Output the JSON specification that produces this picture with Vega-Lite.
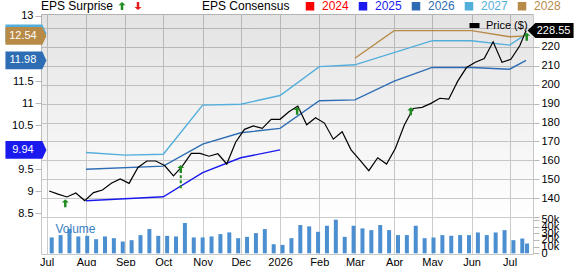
{
  "$schema": "https://vega.github.io/schema/vega-lite/v6.json",
  "width": 492,
  "height": 240,
  "autosize": {"type": "none"},
  "padding": {"left": 41, "top": 14, "right": 46, "bottom": 12},
  "background": "#ffffff",
  "config": {
    "font": "Liberation Sans",
    "view": {"stroke": "#c8c8c8"},
    "axis": {"labelFont": "Liberation Sans", "labelFontSize": 11, "labelColor": "#000000", "tickColor": "#b8b8b8", "gridColor": "#cccccc", "gridWidth": 1, "domain": false, "labelOverlap": false, "labelSeparation": 0},
    "axisY": {"labelOverlap": false},
    "legend": {"padding": 0, "labelFont": "Liberation Sans", "titleFont": "Liberation Sans", "labelFontSize": 12, "titleFontSize": 12, "titleFontWeight": "normal", "titleColor": "#000000", "labelColor": "#000000", "titleLimit": 300}
  },
  "datasets": {
    "panel": [{"panel": "price"}],
    "vol": [
      {"date": "2025-07-05", "vol": 23800}, {"date": "2025-07-12", "vol": 27300}, {"date": "2025-07-19", "vol": 36400},
      {"date": "2025-07-26", "vol": 25300}, {"date": "2025-08-02", "vol": 26200}, {"date": "2025-08-09", "vol": 21200},
      {"date": "2025-08-16", "vol": 25300}, {"date": "2025-08-23", "vol": 22700}, {"date": "2025-08-30", "vol": 17700},
      {"date": "2025-09-06", "vol": 19700}, {"date": "2025-09-13", "vol": 27300}, {"date": "2025-09-20", "vol": 36400},
      {"date": "2025-09-27", "vol": 26200}, {"date": "2025-10-04", "vol": 26200}, {"date": "2025-10-11", "vol": 25300},
      {"date": "2025-10-18", "vol": 45500}, {"date": "2025-10-25", "vol": 23800}, {"date": "2025-11-01", "vol": 23800},
      {"date": "2025-11-08", "vol": 25300}, {"date": "2025-11-15", "vol": 28800}, {"date": "2025-11-22", "vol": 31400},
      {"date": "2025-11-29", "vol": 22700}, {"date": "2025-12-06", "vol": 24700}, {"date": "2025-12-13", "vol": 30300},
      {"date": "2025-12-20", "vol": 36400}, {"date": "2025-12-27", "vol": 13600}, {"date": "2026-01-03", "vol": 12600},
      {"date": "2026-01-10", "vol": 22700}, {"date": "2026-01-17", "vol": 42400}, {"date": "2026-01-24", "vol": 40400},
      {"date": "2026-01-31", "vol": 32300}, {"date": "2026-02-07", "vol": 41400}, {"date": "2026-02-14", "vol": 50500},
      {"date": "2026-02-21", "vol": 24700}, {"date": "2026-02-28", "vol": 41400}, {"date": "2026-03-07", "vol": 37400},
      {"date": "2026-03-14", "vol": 34800}, {"date": "2026-03-21", "vol": 42400}, {"date": "2026-03-28", "vol": 34800},
      {"date": "2026-04-04", "vol": 27300}, {"date": "2026-04-11", "vol": 27300}, {"date": "2026-04-18", "vol": 41400},
      {"date": "2026-04-25", "vol": 22700}, {"date": "2026-05-02", "vol": 23700}, {"date": "2026-05-09", "vol": 27300},
      {"date": "2026-05-16", "vol": 26300}, {"date": "2026-05-23", "vol": 27300}, {"date": "2026-05-30", "vol": 27300},
      {"date": "2026-06-06", "vol": 31300}, {"date": "2026-06-13", "vol": 27300}, {"date": "2026-06-20", "vol": 31300},
      {"date": "2026-06-27", "vol": 34800}, {"date": "2026-07-04", "vol": 19700}, {"date": "2026-07-11", "vol": 22200},
      {"date": "2026-07-14T18:00:00Z", "vol": 14700}
    ],
    "vlabel": [{"date": "2025-07-08", "vol": 30500, "label": "Volume"}],
    "eps": [
      {"series": "2025", "date": "2025-08-01", "eps": 8.78}, {"series": "2025", "date": "2025-10-01", "eps": 8.87},
      {"series": "2025", "date": "2025-11-01", "eps": 9.42}, {"series": "2025", "date": "2025-12-01", "eps": 9.76},
      {"series": "2025", "date": "2026-01-01", "eps": 9.94},
      {"series": "2026", "date": "2025-08-01", "eps": 9.50}, {"series": "2026", "date": "2025-10-01", "eps": 9.57},
      {"series": "2026", "date": "2025-11-01", "eps": 10.07}, {"series": "2026", "date": "2025-12-01", "eps": 10.33},
      {"series": "2026", "date": "2026-01-01", "eps": 10.43}, {"series": "2026", "date": "2026-02-01", "eps": 11.06},
      {"series": "2026", "date": "2026-03-01", "eps": 11.08}, {"series": "2026", "date": "2026-04-01", "eps": 11.51},
      {"series": "2026", "date": "2026-05-01", "eps": 11.82}, {"series": "2026", "date": "2026-06-01", "eps": 11.82},
      {"series": "2026", "date": "2026-07-01", "eps": 11.78}, {"series": "2026", "date": "2026-07-14", "eps": 11.98},
      {"series": "2027", "date": "2025-08-01", "eps": 9.88}, {"series": "2027", "date": "2025-09-01", "eps": 9.82},
      {"series": "2027", "date": "2025-10-01", "eps": 9.84}, {"series": "2027", "date": "2025-11-01", "eps": 10.96},
      {"series": "2027", "date": "2025-12-01", "eps": 10.98}, {"series": "2027", "date": "2026-01-01", "eps": 11.18},
      {"series": "2027", "date": "2026-02-01", "eps": 11.84}, {"series": "2027", "date": "2026-03-01", "eps": 11.88},
      {"series": "2027", "date": "2026-05-01", "eps": 12.43}, {"series": "2027", "date": "2026-06-01", "eps": 12.43},
      {"series": "2027", "date": "2026-07-01", "eps": 12.33}, {"series": "2027", "date": "2026-07-14", "eps": 12.58},
      {"series": "2028", "date": "2026-03-01", "eps": 12.03}, {"series": "2028", "date": "2026-04-01", "eps": 12.66},
      {"series": "2028", "date": "2026-06-01", "eps": 12.66}, {"series": "2028", "date": "2026-07-01", "eps": 12.52},
      {"series": "2028", "date": "2026-07-14", "eps": 12.54}
    ],
    "badges": [
      {"series": "2027", "date": "2025-06-14T16:00:00Z", "eps": 12.6, "label": ""},
      {"series": "2028", "date": "2025-06-14T16:00:00Z", "eps": 12.54, "label": "12.54"},
      {"series": "2026", "date": "2025-06-14T16:00:00Z", "eps": 11.98, "label": "11.98"},
      {"series": "2025", "date": "2025-06-14T16:00:00Z", "eps": 9.94, "label": "9.94"}
    ],
    "price": [
      {"date": "2025-07-03", "price": 143.85}, {"date": "2025-07-10", "price": 142.2}, {"date": "2025-07-17", "price": 140.7},
      {"date": "2025-07-24", "price": 142.8}, {"date": "2025-07-31", "price": 138.8}, {"date": "2025-08-07", "price": 143.0},
      {"date": "2025-08-14", "price": 144.4}, {"date": "2025-08-21", "price": 147.9}, {"date": "2025-08-28", "price": 150.2},
      {"date": "2025-09-04", "price": 147.9}, {"date": "2025-09-11", "price": 156.3}, {"date": "2025-09-18", "price": 159.7},
      {"date": "2025-09-25", "price": 159.7}, {"date": "2025-10-02", "price": 157.3}, {"date": "2025-10-09", "price": 151.8},
      {"date": "2025-10-16", "price": 157.0}, {"date": "2025-10-23", "price": 163.7}, {"date": "2025-10-30", "price": 163.7},
      {"date": "2025-11-06", "price": 162.2}, {"date": "2025-11-13", "price": 163.5}, {"date": "2025-11-20", "price": 158.1},
      {"date": "2025-11-27", "price": 169.6}, {"date": "2025-12-04", "price": 176.4}, {"date": "2025-12-11", "price": 178.2},
      {"date": "2025-12-18", "price": 176.9}, {"date": "2025-12-25", "price": 181.7}, {"date": "2026-01-01", "price": 181.7},
      {"date": "2026-01-08", "price": 185.7}, {"date": "2026-01-15", "price": 188.7}, {"date": "2026-01-22", "price": 178.8},
      {"date": "2026-01-29", "price": 182.5}, {"date": "2026-02-05", "price": 179.7}, {"date": "2026-02-12", "price": 171.2},
      {"date": "2026-02-19", "price": 175.1}, {"date": "2026-02-26", "price": 165.6}, {"date": "2026-03-05", "price": 160.2},
      {"date": "2026-03-12", "price": 154.6}, {"date": "2026-03-19", "price": 161.4}, {"date": "2026-03-26", "price": 158.1},
      {"date": "2026-04-02", "price": 166.4}, {"date": "2026-04-09", "price": 178.7}, {"date": "2026-04-16", "price": 187.4},
      {"date": "2026-04-23", "price": 188.0}, {"date": "2026-04-30", "price": 190.1}, {"date": "2026-05-07", "price": 192.8},
      {"date": "2026-05-14", "price": 192.3}, {"date": "2026-05-21", "price": 201.7}, {"date": "2026-05-28", "price": 209.0},
      {"date": "2026-06-04", "price": 211.8}, {"date": "2026-06-11", "price": 213.7}, {"date": "2026-06-18", "price": 222.6},
      {"date": "2026-06-25", "price": 211.8}, {"date": "2026-07-02", "price": 213.4}, {"date": "2026-07-09", "price": 220.5},
      {"date": "2026-07-14", "price": 228.55}
    ],
    "surprise": [
      {"date": "2025-07-15T17:00:00Z", "price": 139.5, "type": "beat"},
      {"date": "2025-10-14T18:00:00Z", "price": 157.6, "type": "beat"},
      {"date": "2026-01-14T12:00:00Z", "price": 188.3, "type": "beat"},
      {"date": "2026-04-14T02:00:00Z", "price": 188.0, "type": "beat"},
      {"date": "2026-07-14T12:00:00Z", "price": 227.4, "type": "beat"}
    ],
    "dash": [{"date": "2025-10-14T18:00:00Z", "p1": 145.3, "p2": 153.0}],
    "lastprice": [{"date": "2026-08-02T07:00:00Z", "price": 228.55, "label": "228.55"}]
  },
  "layer": [
    {
      "data": {"name": "panel"},
      "mark": {"type": "rect", "fill": {"gradient": "linear", "x1": 0, "y1": 0, "x2": 0, "y2": 1, "stops": [{"offset": 0, "color": "rgba(0,0,0,0.11)"}, {"offset": 0.846, "color": "rgba(0,0,0,0)"}, {"offset": 1, "color": "rgba(0,0,0,0)"}]}},
      "encoding": {}
    },
    {
      "layer": [
        {
          "data": {"name": "vol"},
          "mark": {"type": "bar", "size": 4, "color": "#4b8fd1"},
          "encoding": {
            "x": {
              "field": "date", "type": "temporal",
              "scale": {"type": "utc", "domain": [{"year": 2025, "month": 6, "date": 30, "hours": 12, "utc": true}, {"year": 2026, "month": 7, "date": 15, "hours": 12, "utc": true}]},
              "axis": {"title": null, "grid": true, "tickCount": {"interval": "month", "step": 1}, "labelExpr": "utcmonth(datum.value)==0 ? utcFormat(datum.value,'%Y') : utcFormat(datum.value,'%b')", "labelFlush": false, "labelAlign": "center", "labelBound": false, "labelOverlap": false, "tickSize": 0, "labelPadding": 2, "labelFontSize": 11}
            },
            "y": {
              "field": "vol", "type": "quantitative",
              "scale": {"domain": [-1050, 359300], "nice": false, "zero": false},
              "axis": {"title": null, "orient": "right", "values": [0, 10000, 20000, 30000, 40000, 50000], "labelExpr": "datum.value==0 ? '0' : (datum.value/1000)+'k'", "grid": false, "tickSize": 6, "labelPadding": 2, "labelOverlap": false, "labelBound": false}
            }
          }
        },
        {
          "data": {"name": "vlabel"},
          "mark": {"type": "text", "align": "left", "baseline": "alphabetic", "fontSize": 12, "color": "#3a80c3"},
          "encoding": {
            "x": {"field": "date", "type": "temporal"},
            "y": {"field": "vol", "type": "quantitative", "axis": {"title": null, "orient": "right", "values": [0, 10000, 20000, 30000, 40000, 50000], "labelExpr": "datum.value==0 ? '0' : (datum.value/1000)+'k'", "grid": false, "tickSize": 6, "labelPadding": 2, "labelOverlap": false, "labelBound": false}},
            "text": {"field": "label"}
          }
        }
      ]
    },
    {
      "layer": [
        {
          "data": {"name": "eps"},
          "mark": {"type": "line", "strokeWidth": 1.4},
          "encoding": {
            "x": {"field": "date", "type": "temporal"},
            "y": {
              "field": "eps", "type": "quantitative",
              "scale": {"domain": [7.566, 13.039], "nice": false, "zero": false},
              "axis": {"title": null, "orient": "left", "values": [8.5, 9, 9.5, 10.5, 11, 11.5, 13], "format": ".1~f", "grid": false, "tickSize": 6, "labelPadding": 2, "labelOverlap": false, "labelBound": false}
            },
            "color": {
              "field": "series", "type": "nominal",
              "scale": {"domain": ["2024", "2025", "2026", "2027", "2028"], "range": ["#ff0000", "#1a1aee", "#2e6db4", "#52aedb", "#b88a48"]},
              "legend": {
                "orient": "none", "legendX": 161, "legendY": -14, "direction": "horizontal",
                "title": "EPS Consensus", "titleOrient": "left", "titlePadding": 14,
                "symbolType": "square", "symbolSize": 49, "labelOffset": 6, "columnPadding": 7,
                "encode": {
                  "symbols": {"update": {"fill": {"scale": "color", "field": "value"}, "stroke": {"value": "transparent"}, "opacity": {"value": 1}}},
                  "labels": {"update": {"fill": {"scale": "color", "field": "value"}}}
                }
              }
            }
          }
        },
        {
          "data": {"name": "badges"},
          "mark": {"type": "point", "filled": true, "opacity": 1, "size": 1681, "strokeWidth": 0, "shape": "M-1,-0.43L0.8,-0.43L1,0L0.8,0.43L-1,0.43Z"},
          "encoding": {
            "x": {"field": "date", "type": "temporal"},
            "y": {"field": "eps", "type": "quantitative", "axis": {"title": null, "orient": "left", "values": [8.5, 9, 9.5, 10.5, 11, 11.5, 13], "format": ".1~f", "grid": false, "tickSize": 6, "labelPadding": 2, "labelOverlap": false, "labelBound": false}},
            "color": {"field": "series", "type": "nominal"}
          }
        },
        {
          "data": {"name": "badges"},
          "mark": {"type": "text", "color": "#ffffff", "fontSize": 11, "dx": -3, "align": "center", "baseline": "middle"},
          "encoding": {
            "x": {"field": "date", "type": "temporal"},
            "y": {"field": "eps", "type": "quantitative", "axis": {"title": null, "orient": "left", "values": [8.5, 9, 9.5, 10.5, 11, 11.5, 13], "format": ".1~f", "grid": false, "tickSize": 6, "labelPadding": 2, "labelOverlap": false, "labelBound": false}},
            "text": {"field": "label"}
          }
        }
      ]
    },
    {
      "layer": [
        {
          "data": {"name": "price"},
          "mark": {"type": "line", "strokeWidth": 1.2},
          "encoding": {
            "x": {"field": "date", "type": "temporal"},
            "y": {
              "field": "price", "type": "quantitative",
              "scale": {"domain": [110.61, 237.26], "nice": false, "zero": false},
              "axis": {"title": null, "orient": "right", "values": [130, 140, 150, 160, 170, 180, 190, 200, 210, 220, 230], "grid": true, "labelExpr": "datum.value < 135 || datum.value > 225 ? '' : datum.label", "tickSize": 6, "labelPadding": 2, "labelOverlap": false, "labelBound": false}
            },
            "stroke": {
              "datum": "Price ($)", "type": "nominal",
              "scale": {"domain": ["Price ($)"], "range": ["#000000"]},
              "legend": {
                "orient": "none", "legendX": 428, "legendY": 6, "title": null,
                "symbolType": "M-1,-0.5L1,-0.5L1,0.5L-1,0.5Z", "symbolSize": 100, "labelFontSize": 11, "labelOffset": 6,
                "encode": {"symbols": {"update": {"fill": {"value": "#000000"}, "strokeWidth": {"value": 0}, "opacity": {"value": 1}}}}
              }
            }
          }
        },
        {
          "data": {"name": "dash"},
          "mark": {"type": "rule", "color": "#1e8c1e", "strokeWidth": 2, "strokeDash": [3, 2]},
          "encoding": {
            "x": {"field": "date", "type": "temporal"},
            "y": {"field": "p1", "type": "quantitative", "axis": {"title": null, "orient": "right", "values": [130, 140, 150, 160, 170, 180, 190, 200, 210, 220, 230], "grid": true, "labelExpr": "datum.value < 135 || datum.value > 225 ? '' : datum.label", "tickSize": 6, "labelPadding": 2, "labelOverlap": false, "labelBound": false}},
            "y2": {"field": "p2"}
          }
        },
        {
          "data": {"name": "surprise"},
          "mark": {"type": "point", "filled": true, "opacity": 1, "size": 49, "strokeWidth": 0, "yOffset": 4},
          "encoding": {
            "x": {"field": "date", "type": "temporal"},
            "y": {"field": "price", "type": "quantitative", "axis": {"title": null, "orient": "right", "values": [130, 140, 150, 160, 170, 180, 190, 200, 210, 220, 230], "grid": true, "labelExpr": "datum.value < 135 || datum.value > 225 ? '' : datum.label", "tickSize": 6, "labelPadding": 2, "labelOverlap": false, "labelBound": false}},
            "fill": {
              "field": "type", "type": "nominal",
              "scale": {"domain": ["beat", "miss"], "range": ["#1e8c1e", "#e41a1a"]},
              "legend": {"orient": "none", "legendX": 0, "legendY": -14, "direction": "horizontal", "title": "EPS Surprise", "titleOrient": "left", "titlePadding": 2, "titleFontSize": 12, "labelExpr": "''", "labelOffset": 0, "columnPadding": 4, "symbolSize": 49, "symbolStrokeWidth": 0}
            },
            "shape": {
              "field": "type", "type": "nominal",
              "scale": {"domain": ["beat", "miss"], "range": ["M0,-1.15L1,-0.25L0.35,-0.25L0.35,1.15L-0.35,1.15L-0.35,-0.25L-1,-0.25Z", "M0,1.15L1,0.25L0.35,0.25L0.35,-1.15L-0.35,-1.15L-0.35,0.25L-1,0.25Z"]},
              "legend": {"orient": "none", "legendX": 0, "legendY": -14, "direction": "horizontal", "title": "EPS Surprise", "titleOrient": "left", "titlePadding": 2, "titleFontSize": 12, "labelExpr": "''", "labelOffset": 0, "columnPadding": 4, "symbolSize": 49, "symbolStrokeWidth": 0}
            }
          }
        },
        {
          "data": {"name": "lastprice"},
          "mark": {"type": "point", "filled": true, "opacity": 1, "size": 2116, "strokeWidth": 0, "color": "#000000", "shape": "M-1,0L-0.66,-0.33L1,-0.33L1,0.33L-0.66,0.33Z"},
          "encoding": {
            "x": {"field": "date", "type": "temporal"},
            "y": {"field": "price", "type": "quantitative", "axis": {"title": null, "orient": "right", "values": [130, 140, 150, 160, 170, 180, 190, 200, 210, 220, 230], "grid": true, "labelExpr": "datum.value < 135 || datum.value > 225 ? '' : datum.label", "tickSize": 6, "labelPadding": 2, "labelOverlap": false, "labelBound": false}}
          }
        },
        {
          "data": {"name": "lastprice"},
          "mark": {"type": "text", "color": "#ffffff", "fontSize": 11, "dx": 3, "align": "center", "baseline": "middle"},
          "encoding": {
            "x": {"field": "date", "type": "temporal"},
            "y": {"field": "price", "type": "quantitative", "axis": {"title": null, "orient": "right", "values": [130, 140, 150, 160, 170, 180, 190, 200, 210, 220, 230], "grid": true, "labelExpr": "datum.value < 135 || datum.value > 225 ? '' : datum.label", "tickSize": 6, "labelPadding": 2, "labelOverlap": false, "labelBound": false}},
            "text": {"field": "label"}
          }
        }
      ]
    }
  ],
  "resolve": {"scale": {"y": "independent"}, "axis": {"y": "independent"}}
}
